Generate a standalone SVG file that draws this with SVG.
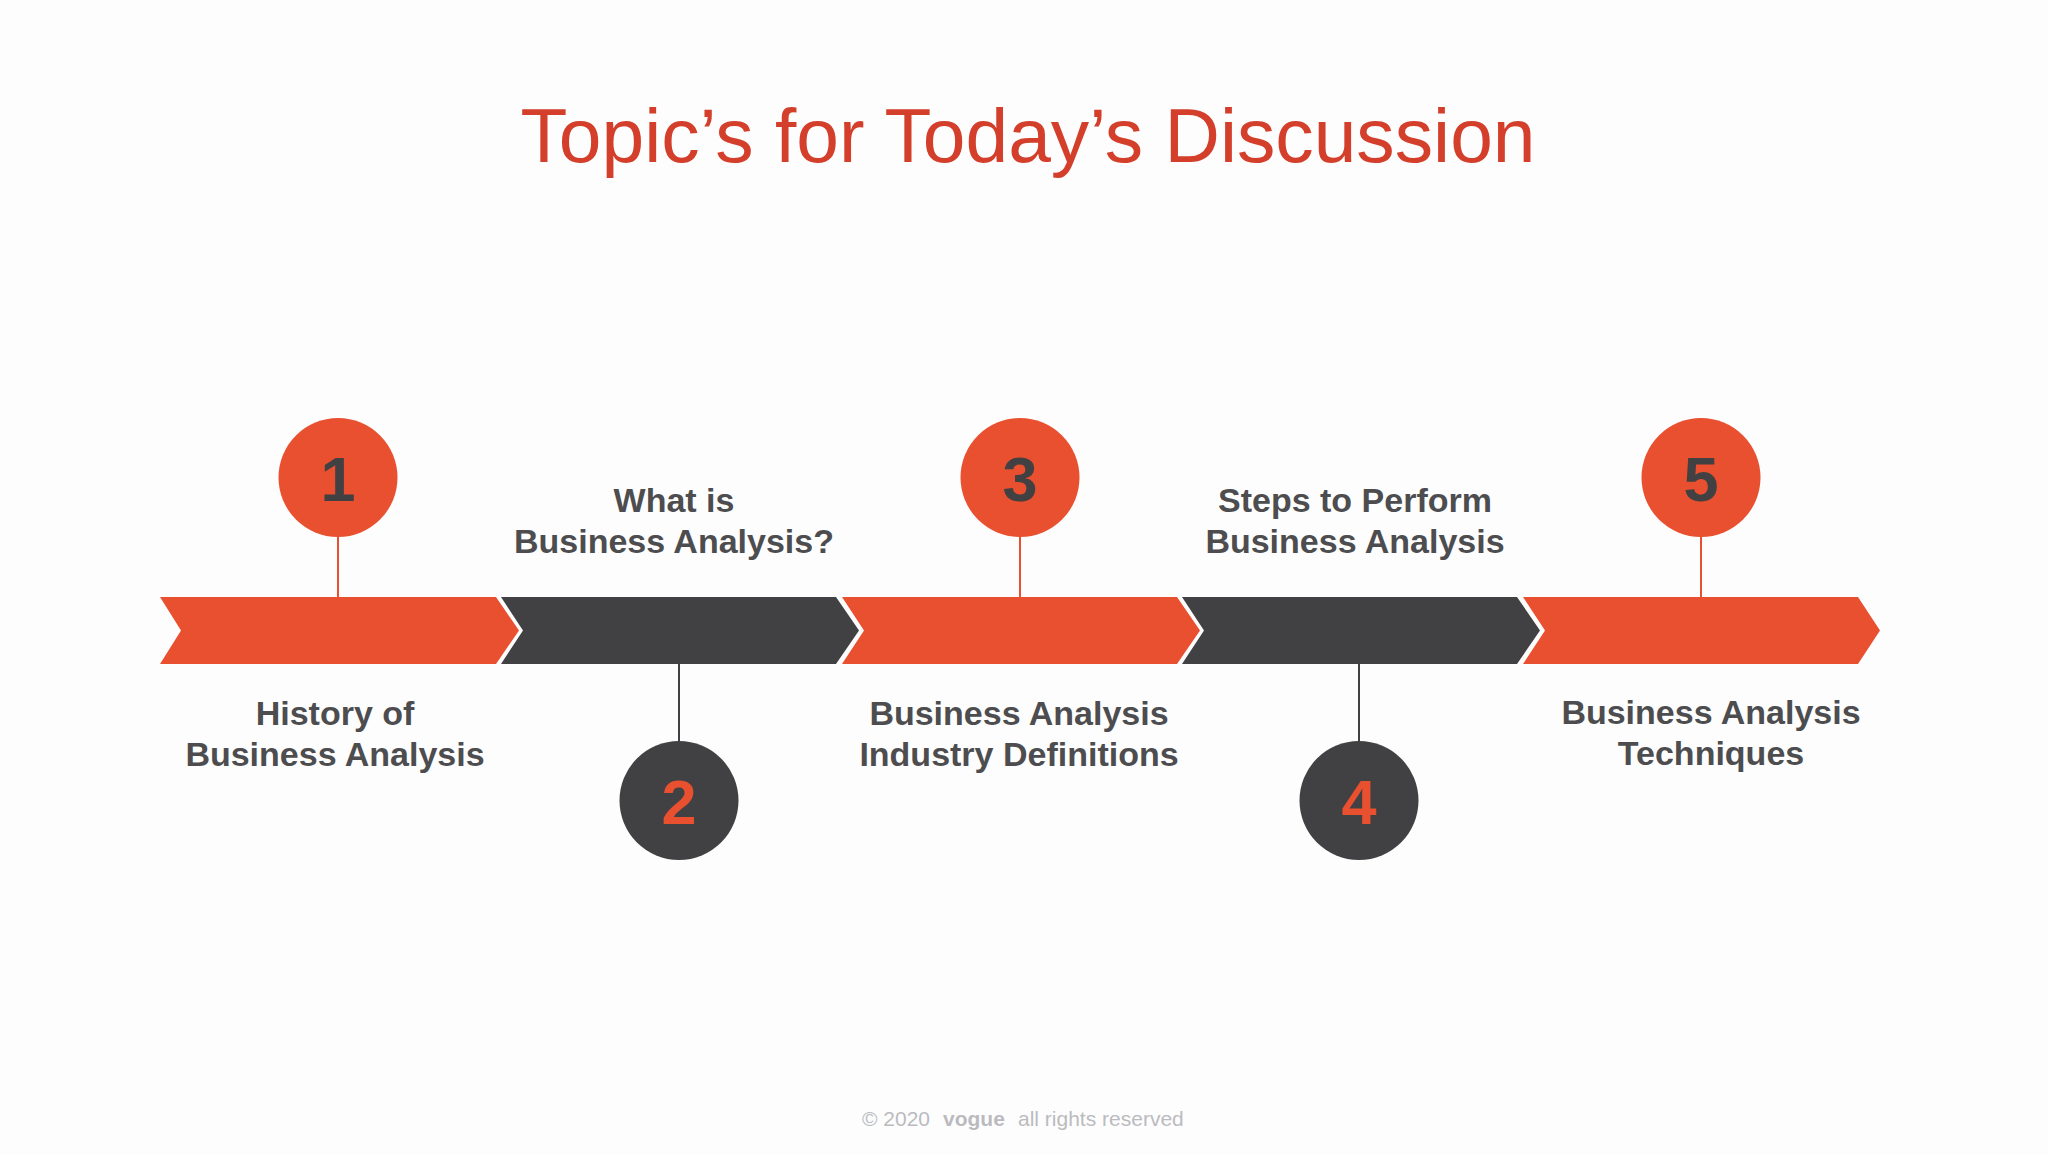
<svg xmlns="http://www.w3.org/2000/svg" width="2048" height="1155" viewBox="0 0 2048 1155">
  <style>
    .org{fill:#E8502F}
    .drk{fill:#414042}
    .lbl{font-family:"Liberation Sans",Arial,sans-serif;font-weight:bold;font-size:34px;fill:#4D4D50;text-anchor:middle}
    .num{font-family:"Liberation Sans",Arial,sans-serif;font-weight:bold;font-size:63px;text-anchor:middle}
    .ln-o{stroke:#E8502F;stroke-width:2}
    .ln-d{stroke:#414042;stroke-width:2}
  </style>
  <rect width="2048" height="1155" fill="#fdfdfd"/>
  <text x="1028" y="162" font-family="'Liberation Sans',Arial,sans-serif" font-size="76" fill="#D33F2B" text-anchor="middle" textLength="1015" lengthAdjust="spacingAndGlyphs">Topic’s for Today’s Discussion</text>

  <g id="connectors">
    <line class="ln-o" x1="338" y1="536" x2="338" y2="597"/>
    <line class="ln-d" x1="679" y1="664" x2="679" y2="742"/>
    <line class="ln-o" x1="1020" y1="536" x2="1020" y2="597"/>
    <line class="ln-d" x1="1359" y1="664" x2="1359" y2="742"/>
    <line class="ln-o" x1="1701" y1="536" x2="1701" y2="597"/>
  </g>

  <g id="arrow1"><polygon class="org" points="160,597 496,597 519,630.5 496,664 160,664 181,630.5"/></g>
  <g id="arrow2"><polygon class="drk" points="501,597 836,597 859,630.5 836,664 501,664 523,630.5"/></g>
  <g id="arrow3"><polygon class="org" points="842,597 1177,597 1200,630.5 1177,664 842,664 864,630.5"/></g>
  <g id="arrow4"><polygon class="drk" points="1182,597 1517,597 1540,630.5 1517,664 1182,664 1204,630.5"/></g>
  <g id="arrow5"><polygon class="org" points="1523,597 1858,597 1880,630.5 1858,664 1523,664 1545,630.5"/></g>

  <g id="node1">
    <circle class="org" cx="338" cy="477.5" r="59.5"/>
    <text class="num" x="338" y="501" fill="#414042">1</text>
    <text class="lbl" x="335" y="725">History of</text>
    <text class="lbl" x="335" y="766">Business Analysis</text>
  </g>
  <g id="node2">
    <circle class="drk" cx="679" cy="800.5" r="59.5"/>
    <text class="num" x="679" y="824" fill="#E8502F">2</text>
    <text class="lbl" x="674" y="512">What is</text>
    <text class="lbl" x="674" y="553">Business Analysis?</text>
  </g>
  <g id="node3">
    <circle class="org" cx="1020" cy="477.5" r="59.5"/>
    <text class="num" x="1020" y="501" fill="#414042">3</text>
    <text class="lbl" x="1019" y="725">Business Analysis</text>
    <text class="lbl" x="1019" y="766">Industry Definitions</text>
  </g>
  <g id="node4">
    <circle class="drk" cx="1359" cy="800.5" r="59.5"/>
    <text class="num" x="1359" y="824" fill="#E8502F">4</text>
    <text class="lbl" x="1355" y="512">Steps to Perform</text>
    <text class="lbl" x="1355" y="553">Business Analysis</text>
  </g>
  <g id="node5">
    <circle class="org" cx="1701" cy="477.5" r="59.5"/>
    <text class="num" x="1701" y="501" fill="#414042">5</text>
    <text class="lbl" x="1711" y="724">Business Analysis</text>
    <text class="lbl" x="1711" y="765">Techniques</text>
  </g>

  <text y="1126" font-family="'Liberation Sans',Arial,sans-serif" font-size="21" fill="#BBBBBF"><tspan x="862">© 2020</tspan><tspan x="943" font-weight="bold">vogue</tspan><tspan x="1018">all rights reserved</tspan></text>
</svg>
